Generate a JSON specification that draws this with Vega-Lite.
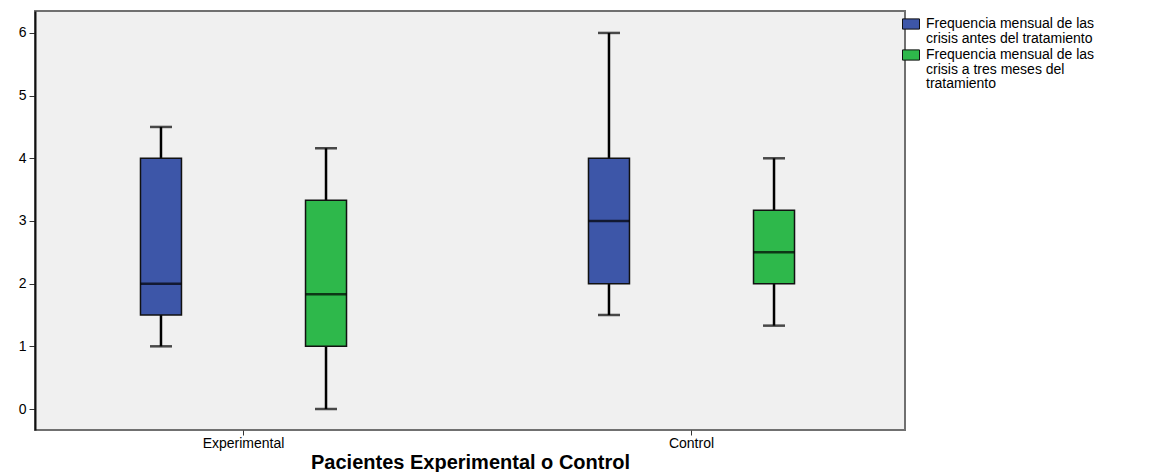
{
  "$schema": "https://vega.github.io/schema/vega-lite/v6.json",
  "autosize": {"type": "none"},
  "padding": {"left": 35, "top": 11, "right": 269, "bottom": 42},
  "width": 870,
  "height": 419,
  "background": "white",
  "config": {
    "font": "Liberation Sans",
    "view": {"fill": "#f0f0f0", "stroke": "#707070", "strokeWidth": 2},
    "axis": {"grid": false, "labelColor": "black", "tickColor": "#333", "labelFont": "Liberation Sans"},
    "style": {"guide-label": {"lineHeight": 14.5}}
  },
  "data": {
    "values": [
      {"grupo": "Experimental", "serie": "antes", "min": 1, "q1": 1.5, "mediana": 2, "q3": 4, "max": 4.5},
      {"grupo": "Experimental", "serie": "tres", "min": 0, "q1": 1, "mediana": 1.83, "q3": 3.33, "max": 4.16},
      {"grupo": "Control", "serie": "antes", "min": 1.5, "q1": 2, "mediana": 3, "q3": 4, "max": 6},
      {"grupo": "Control", "serie": "tres", "min": 1.33, "q1": 2, "mediana": 2.5, "q3": 3.17, "max": 4}
    ]
  },
  "encoding": {
    "x": {
      "field": "grupo", "type": "nominal", "sort": ["Experimental", "Control"],
      "scale": {"range": [-15.5, 880.5], "paddingInner": 0, "paddingOuter": 0},
      "axis": {
        "title": "Pacientes Experimental o Control", "titleFont": "Liberation Sans", "titleFontWeight": "bold",
        "titleFontSize": 20, "titleColor": "black", "titlePadding": 2, "titleX": 435,
        "labelAngle": 0, "labelFontSize": 14, "labelPadding": 1, "tickSize": 5,
        "domain": false
      }
    },
    "xOffset": {
      "field": "serie", "type": "nominal",
      "scale": {"domain": ["antes", "tres"], "paddingInner": 0.7515, "paddingOuter": 0.733}
    }
  },
  "layer": [
    {
      "mark": {"type": "rule", "color": "black", "strokeWidth": 2.5},
      "encoding": {
        "y": {"field": "min", "type": "quantitative", "scale": {"domain": [-0.335, 6.35], "nice": false, "zero": false},
          "axis": {"title": null, "values": [0, 1, 2, 3, 4, 5, 6], "format": "d", "labelFontSize": 14, "tickSize": 6, "labelPadding": 3, "domainColor": "#111", "domainWidth": 2}},
        "y2": {"field": "max"}
      }
    },
    {
      "mark": {"type": "bar", "stroke": "#111", "strokeWidth": 1.5, "width": 41},
      "encoding": {
        "y": {"field": "q1", "type": "quantitative"},
        "y2": {"field": "q3"},
        "color": {
          "field": "serie", "type": "nominal",
          "scale": {"domain": ["antes", "tres"], "range": ["#3d56a8", "#2eb84b"]},
          "legend": {
            "title": null, "orient": "none", "legendX": 867, "legendY": 4, "padding": 0,
            "symbolType": "M-1,-0.6H1V0.6H-1Z", "symbolSize": 289, "symbolStrokeColor": "#111", "symbolStrokeWidth": 1,
            "symbolOpacity": 1,
            "labelFont": "Liberation Sans", "labelFontSize": 14, "labelColor": "black",
            "labelLimit": 400, "labelOffset": 6, "rowPadding": 0,
            "labelExpr": "datum.value == 'antes' ? ['Frequencia mensual de las', 'crisis antes del tratamiento'] : ['Frequencia mensual de las', 'crisis a tres meses del', 'tratamiento']"
          }
        }
      }
    },
    {
      "mark": {"type": "tick", "color": "black", "thickness": 2.5, "size": 41},
      "encoding": {"y": {"field": "mediana", "type": "quantitative"}}
    },
    {
      "mark": {"type": "tick", "color": "black", "thickness": 2.5, "size": 22},
      "encoding": {"y": {"field": "min", "type": "quantitative"}}
    },
    {
      "mark": {"type": "tick", "color": "black", "thickness": 2.5, "size": 22},
      "encoding": {"y": {"field": "max", "type": "quantitative"}}
    }
  ]
}
